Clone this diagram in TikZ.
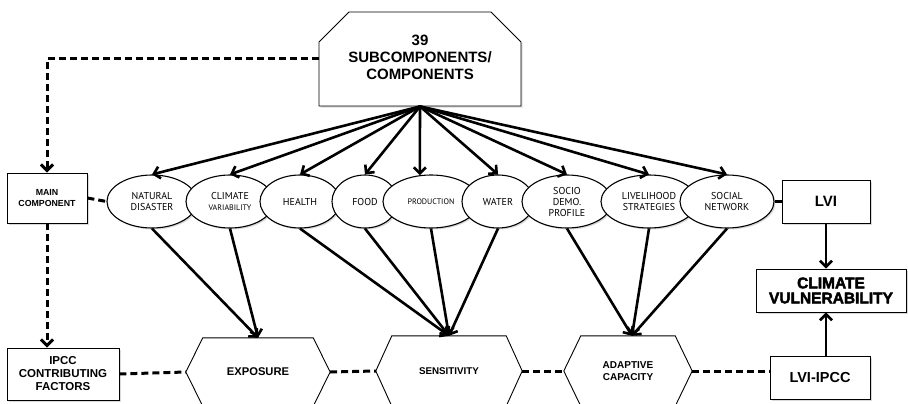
\documentclass[tikz,border=0pt]{standalone}
\usepackage{fontspec}
\setmainfont{Liberation Sans}
\newfontfamily\gill{PT Sans}
\newfontfamily\blackfont{Liberation Sans Bold}[FakeBold=2.5]
\usetikzlibrary{shapes.geometric,shapes.misc,arrows.meta,shadows,calc}
\newcommand\hexof[2]{\draw[hexline] (#1.west) -- ([xshift=#2]#1.north west) -- ([xshift=-#2]#1.north east) -- (#1.east) -- ([xshift=-#2]#1.south east) -- ([xshift=#2]#1.south west) -- cycle;}
\tikzset{
  shad/.style={drop shadow={shadow xshift=1.5pt,shadow yshift=-1.5pt,opacity=0.3}},
  box/.style={draw, line width=0.9pt, fill=white, inner sep=0pt, align=center, shad},
  ell/.style={ellipse, draw, line width=1.1pt, fill=white, inner sep=0pt, minimum height=53pt, align=center, shad},
  hexn/.style={inner sep=0pt, align=center},
  hexline/.style={draw, line width=0.9pt},
  arr/.style={line width=2.6pt, -{Straight Barb[length=6pt,width=12pt]}},
  dsh/.style={line width=3pt, dash pattern=on 7pt off 4pt},
  darr/.style={dsh, -{Straight Barb[length=6pt,width=12pt]}},
  ef/.style={font=\gill\fontsize{10}{11}\selectfont},
  efs/.style={font=\gill\fontsize{8}{9}\selectfont},
}
\begin{document}
\begin{tikzpicture}[x=1pt,y=-1pt]
\useasboundingbox (0,0) rectangle (908,404);
\clip (0,0) rectangle (908,404);

% top box
\node[box, chamfered rectangle, chamfered rectangle corners={north west,north east},
  chamfered rectangle xsep=15pt, chamfered rectangle ysep=15pt,
  minimum width=202pt, minimum height=94pt,
  font=\bfseries\fontsize{15}{17}\selectfont] (top) at (420,59)
  {\raisebox{-4pt}{\begin{tabular}{@{}c@{}}39\\SUBCOMPONENTS/\\COMPONENTS\end{tabular}}};

% left and right boxes
\node[box, minimum width=80pt, minimum height=50pt, font=\bfseries\fontsize{8.8}{11}\selectfont] (main) at (47,198) {MAIN\\COMPONENT};
\node[box, minimum width=112pt, minimum height=52pt, font=\bfseries\fontsize{11.5}{13}\selectfont] (ipcc) at (63,374) {IPCC\\CONTRIBUTING\\FACTORS};
\node[box, minimum width=88pt, minimum height=43pt, font=\bfseries\fontsize{15}{16}\selectfont] (lvi) at (826,201.5) {LVI};
\node[box, minimum width=100pt, minimum height=43pt, font=\bfseries\fontsize{14.5}{16}\selectfont] (lvii) at (820,377.5) {LVI-IPCC};
\node[box, minimum width=150pt, minimum height=43pt, font=\blackfont\fontsize{15.5}{15}\selectfont] (cv) at (831,290.5) {CLIMATE\\VULNERABILITY};

% ellipses
\node[ell, ef, minimum width=90pt] (nat) at (152,201.5) {NATURAL\\DISASTER};
\node[ell, ef, minimum width=88pt] (cli) at (230,201.5) {CLIMATE\\{\fontsize{8}{9}\selectfont VARIABILITY}};
\node[ell, ef, minimum width=80pt] (hea) at (300,201.5) {HEALTH};
\node[ell, ef, minimum width=66pt] (foo) at (365,201.5) {FOOD};
\node[ell, efs, minimum width=96pt] (pro) at (431,201.5) {PRODUCTION};
\node[ell, ef, minimum width=72pt] (wat) at (498,201.5) {WATER};
\node[ell, ef, minimum width=90pt] (soc) at (567,201.5) {SOCIO\\DEMO.\\PROFILE};
\node[ell, ef, minimum width=96pt] (liv) at (649,201.5) {LIVELIHOOD\\STRATEGIES};
\node[ell, ef, minimum width=94pt] (net) at (727,201.5) {SOCIAL\\NETWORK};

% hexagons
\node[hexn, minimum width=144pt, minimum height=68pt, font=\bfseries\fontsize{11.2}{13}\selectfont] (exp) at (258,372) {EXPOSURE};
\node[hexn, minimum width=146pt, minimum height=70pt, font=\bfseries\fontsize{9.8}{11}\selectfont] (sen) at (449,371) {SENSITIVITY};
\node[hexn, minimum width=128pt, minimum height=70pt, font=\bfseries\fontsize{10}{11.5}\selectfont] (ada) at (628,371) {ADAPTIVE\\CAPACITY};
\hexof{exp}{17pt}
\hexof{sen}{16pt}
\hexof{ada}{17pt}

% arrows from top box
\foreach \e in {nat,cli,hea,foo,wat,soc,liv,net}
  \draw[arr] (top.south) -- (\e.north);
\draw[arr] (top.south) -- (pro.113);

% arrows to hexagons
\draw[arr] (nat.south) -- (exp.north);
\draw[arr] (cli.south) -- (exp.north);
\foreach \e in {hea,foo,pro,wat}
  \draw[arr] (\e.south) -- (sen.north);
\foreach \e in {soc,liv,net}
  \draw[arr] (\e.south) -- ([xshift=4pt]ada.north);

% dashed connectors
\draw[darr] (top.west) -| (main.north);
\draw[darr] (main.south) -- (main.south |- ipcc.north);
\draw[dsh] (main.east) -- (nat.west);
\draw[dsh] (ipcc.east) -- (exp.west);
\draw[dsh] (exp.east) -- (sen.west);
\draw[dsh] (sen.east) -- (ada.west);
\draw[dsh] (ada.east) -- (ada.east -| lvii.west);
\draw[dsh] (net.east) -- (lvi.west);

% right arrows
\draw[arr] (lvi.south) -- (lvi.south |- cv.north);
\draw[arr] (lvi.south |- lvii.north) -- (lvi.south |- cv.south);
\end{tikzpicture}
\end{document}
